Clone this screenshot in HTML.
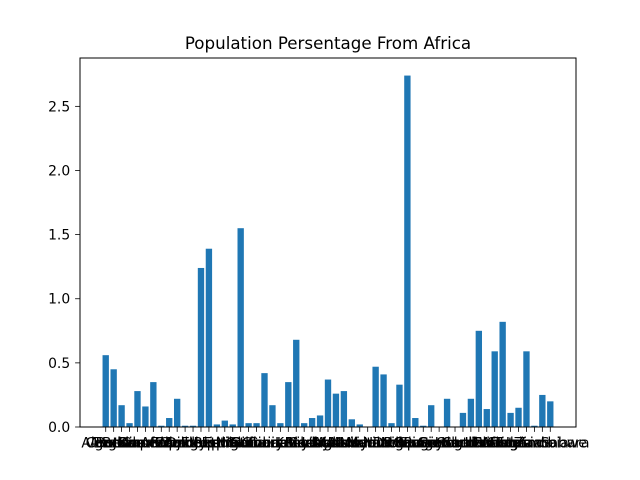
<!DOCTYPE html>
<html><head><meta charset="utf-8"><style>
body{margin:0;background:#fff}
svg{display:block;font-family:"DejaVu Sans","Liberation Sans",sans-serif}
</style></head><body>
<svg id="chart" width="640" height="480">
<rect x="0" y="0" width="640" height="480" fill="#fff"/>
<text x="328" y="49" font-size="16.7" text-anchor="middle">Population Persentage From Africa</text>
<g id="bars"></g>
<g id="xticks"></g>
<g id="yticks"></g>
<rect x="80" y="58" width="496" height="369" fill="none" stroke="#000" stroke-width="1"/>
</svg>
<script>
const countries = ["Algeria","Angola","Benin","Botswana","Burkina Faso","Burundi","Cameroon","Cape Verde","Central African Republic","Chad","Comoros","Djibouti","Egypt","Ethiopia","Equatorial Guinea","Eritrea","Eswatini","Nigeria","Gabon","Gambia","Ghana","Guinea","Guinea-Bissau","Ivory Coast","Kenya","Lesotho","Liberia","Libya","Madagascar","Malawi","Mali","Mauritania","Mauritius","Mayotte","Morocco","Mozambique","Namibia","Niger","DR Congo","Congo","Reunion","Rwanda","Saint Helena","Senegal","Seychelles","Sierra Leone","Somalia","South Africa","South Sudan","Sudan","Tanzania","Togo","Tunisia","Uganda","Western Sahara","Zambia","Zimbabwe"];
const values = [0.56,0.45,0.17,0.03,0.28,0.16,0.35,0.01,0.07,0.22,0.01,0.01,1.24,1.39,0.02,0.05,0.02,1.55,0.03,0.03,0.42,0.17,0.03,0.35,0.68,0.03,0.07,0.09,0.37,0.26,0.28,0.06,0.02,0,0.47,0.41,0.03,0.33,2.74,0.07,0.01,0.17,0,0.22,0,0.11,0.22,0.75,0.14,0.59,0.82,0.11,0.15,0.59,0.01,0.25,0.20];
const yTicks = [0,0.5,1.0,1.5,2.0,2.5];
const yTickLabels = ["0.0","0.5","1.0","1.5","2.0","2.5"];

const NS="http://www.w3.org/2000/svg";
const L=80,R=576,T=58,B=427;
const n=values.length;
const xmin=-0.4-0.05*(n-0.2), xmax=n-1+0.4+0.05*(n-0.2);
const maxV=Math.max(...values);
const ymax=maxV*1.05;
const xs=v=>L+(v-xmin)/(xmax-xmin)*(R-L);
const ys=v=>B-v/ymax*(B-T);
const bars=document.getElementById('bars');
const xt=document.getElementById('xticks');
const yt=document.getElementById('yticks');
values.forEach((v,i)=>{
  const r=document.createElementNS(NS,'rect');
  
  
  const x0=xs(i-0.4),x1=xs(i+0.4);
  r.setAttribute('x',x0);r.setAttribute('width',x1-x0);
  r.setAttribute('y',ys(v));r.setAttribute('height',B-ys(v));
  r.setAttribute('fill','#1f77b4');
  bars.appendChild(r);
  const tk=document.createElementNS(NS,'line');
  
  
  tk.setAttribute('x1',xs(i));tk.setAttribute('x2',xs(i));tk.setAttribute('y1',B);tk.setAttribute('y2',B+4.9);
  tk.setAttribute('stroke','#000');tk.setAttribute('stroke-width','0.8');
  xt.appendChild(tk);
  const t=document.createElementNS(NS,'text');
  
  
  t.setAttribute('x',xs(i));t.setAttribute('y',447.5);t.setAttribute('font-size','13.9');t.setAttribute('text-anchor','middle');
  t.textContent=countries[i];
  xt.appendChild(t);
});
yTicks.forEach((v,i)=>{
  const tk=document.createElementNS(NS,'line');
  
  
  tk.setAttribute('x1',L-4.9);tk.setAttribute('x2',L);tk.setAttribute('y1',ys(v));tk.setAttribute('y2',ys(v));
  tk.setAttribute('stroke','#000');tk.setAttribute('stroke-width','0.8');
  yt.appendChild(tk);
  const t=document.createElementNS(NS,'text');
  
  
  t.setAttribute('x',L-9.8);t.setAttribute('y',ys(v)+5);t.setAttribute('font-size','13.9');t.setAttribute('text-anchor','end');
  t.textContent=yTickLabels[i];
  yt.appendChild(t);
});
</script>
</body></html>
